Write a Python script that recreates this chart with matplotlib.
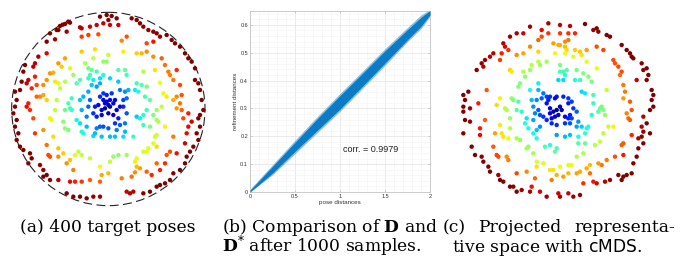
import numpy as np
import matplotlib.pyplot as plt
from matplotlib.patches import Circle

plt.rcParams['font.family'] = ['DejaVu Serif']
plt.rcParams['mathtext.fontset'] = 'custom'
plt.rcParams['mathtext.rm'] = 'DejaVu Serif'
plt.rcParams['mathtext.it'] = 'DejaVu Serif:italic'
plt.rcParams['mathtext.bf'] = 'DejaVu Serif:bold'
plt.rcParams['mathtext.sf'] = 'DejaVu Sans'

W, H = 683, 261

# (a) 400 target poses -- positions (picture units, y down)
a_outer = [(300,50),(320,45),(335,48),(350,55),(325,60),(310,70),(330,75),(355,75),(290,75),(270,80),
           (245,85),(240,82),(200,95),(188,74),(210,68),(175,90),(150,100),(165,118),(140,125),(140,160),
           (115,170),(105,190),(100,200),(75,195),(70,215),(65,245),(60,270),(45,275),(85,240),(105,230),
           (110,255),(95,265),(80,250),(205,65),(195,72),(180,78),(170,90),
           (395,55),(410,60),(420,70),(430,80),(445,90),(460,95),(470,100),(480,110),(500,105),(515,120),
           (525,130),(540,140),(555,160),(565,175),(575,185),(585,205),(585,240),(595,250),(600,270),(605,300),
           (600,345),(610,330),(595,355),(600,380),(590,400),(595,420),(580,440),(570,455),(560,470),(555,490),
           (540,510),(520,520),(510,540),(495,550),(480,555),(470,560),(450,575),(430,580),(400,575),(390,580),
           (380,575),(50,300),(45,320),(40,340),(50,360),(45,380),(55,400),(50,420),(60,440),(70,450),
           (90,460),(95,475),(85,490),(120,495),(130,510),(140,525),(150,540),(130,530),(175,540),(210,545),
           (225,545),(245,545),(200,580),(220,590),(240,590),(260,595),(280,590),(300,590)]
a_orange = [(245,110),(265,105),(295,103),(365,122),(380,110),(440,130),(460,125),(485,175),(495,195),(505,215),
            (510,225),(530,210),(520,240),(540,255),(545,285),(530,290),(540,310),(520,300),(530,325),(545,330),
            (565,340),(550,355),(575,365),(565,380),(560,400),(520,410),(555,430),(530,460),(510,455),(500,465),
            (495,490),(470,490),(480,510),(455,525),(440,515),(420,505),(405,517),(395,530),(365,535),(325,520),
            (305,525),(300,545),(270,540),(220,510),(200,490),(175,470),(150,470),(145,465),(140,435),
            (130,390),(105,400),(100,355),(90,330),(80,320),(85,310),(120,290),(130,285),(140,300),(110,290),
            (140,240),(150,220),(160,218),(175,190),(185,200),(195,175),(130,255)]
a_yellow = [(245,155),(285,148),(280,175),(325,165),(310,185),(370,155),(410,160),(425,160),(440,155),(460,170),
            (465,210),(480,248),(490,280),(500,290),(485,320),(470,330),(460,345),(470,360),(475,365),(450,380),
            (495,380),(470,405),(465,410),(460,430),(470,440),(445,445),(440,455),(430,455),(410,475),(405,485),
            (410,500),(380,465),(355,465),(340,470),(330,485),(300,500),(270,475),(245,465),(235,455),(225,465),
            (210,480),(190,460),(175,445),(160,410),(155,360),(150,355),(165,330),(170,300),(180,265),(195,245),
            (175,250),(165,245),(210,205),(220,225),(255,190),(265,205),(275,210),(320,185),(430,215),(425,255),
            (440,260),(450,300)]
a_cyan = [(290,215),(310,225),(330,235),(355,210),(375,210),(355,245),(380,225),(410,250),(405,270),(415,275),
          (435,290),(440,330),(430,345),(410,350),(420,355),(430,375),(400,410),(375,395),(370,410),(345,410),
          (330,410),(305,410),(280,408),(250,400),(245,395),(240,370),(230,360),(215,330),(210,325),(215,295),
          (205,310),(195,330),(190,365),(195,385),(205,390),(230,250),(240,240),(265,235),(270,225),(280,240),
          (300,235),(260,380),(290,385),(285,400)]
a_blue = [(250,290),(265,275),(275,255),(290,260),(300,250),(310,280),(300,290),(320,285),(335,280),(345,300),
          (340,310),(330,320),(315,325),(305,330),(295,315),(285,320),(280,340),(290,350),(305,345),(325,340),
          (340,345),(350,330),(360,320),(370,300),(380,295),(375,275),(385,270),(360,270),(370,320),(380,340),
          (355,355),(345,370),(360,375),(375,370),(350,390),(325,385),(310,380),(300,380),(260,350),(265,320),
          (270,300),(240,300),(245,330),(330,300),(320,305),(310,300),(315,310),(325,315)]

# (b) pose distance vs refinement distance band
pose_x = [0, 0.25, 0.5, 0.75, 1.0, 1.25, 1.5, 1.75, 1.9, 2.0]
refine_lo = [0.0, 0.068, 0.146, 0.222, 0.298, 0.380, 0.463, 0.547, 0.595, 0.636]
refine_hi = [0.006, 0.092, 0.178, 0.264, 0.346, 0.426, 0.507, 0.583, 0.627, 0.652]
refine_lo_edge = [0.0, 0.062, 0.138, 0.214, 0.290, 0.372, 0.455, 0.540, 0.587, 0.630]
refine_hi_edge = [0.010, 0.098, 0.186, 0.272, 0.354, 0.434, 0.515, 0.591, 0.636, 0.655]
corr = 0.9979

# (c) projected representative space (cMDS)
c_outer = [(240,80),(295,70),(330,75),(360,78),(405,72),(440,85),(445,95),(470,105),(480,110),(430,90),
           (200,100),(220,100),(180,110),(160,130),(165,140),(175,150),(155,160),(130,160),(120,170),(105,180),
           (95,190),(80,210),(100,200),(275,90),(295,100),(275,110),(330,100),(355,100),(375,100),(355,120),
           (345,125),(325,135),(310,130),(265,120),(220,160),(200,165),(150,180),
           (515,135),(530,150),(540,160),(545,170),(550,175),(575,190),(590,205),(580,210),(595,225),(590,240),
           (560,240),(605,270),(610,285),(605,300),(610,320),(600,330),(580,350),(590,370),(575,380),(580,395),
           (600,400),(575,410),(565,415),(580,430),(565,445),(560,470),(550,490),(545,520),(530,525),(515,540),
           (520,530),(505,525),(480,540),(465,545),(440,550),(430,545),(400,550),(390,585),(370,590),(355,580),
           (330,590),(325,580),(290,590),(270,575),(245,560),(240,575),(215,570),(200,575),(190,560),(180,560),
           (160,545),(150,540),(145,525),(120,515),(115,500),(100,485),(95,470),(75,465),(65,440),(40,400),
           (45,360),(40,335),(40,320),(45,300),(40,285),(55,275),(60,325),(60,365)]
c_orange = [(240,140),(265,155),(330,135),(345,140),(350,150),(375,150),(390,155),(410,150),(440,140),(460,150),
            (490,180),(495,190),(505,200),(515,215),(510,225),(520,255),(525,275),(520,295),(540,305),(545,330),
            (530,340),(535,355),(540,360),(545,405),(520,430),(515,435),(520,465),(495,470),(470,480),(455,495),
            (445,490),(420,495),(410,505),(420,520),(390,515),(380,520),(355,520),(340,530),(320,525),(310,510),
            (305,540),(255,535),(260,500),(230,515),(200,520),(175,480),(170,470),(140,465),(145,470),(130,440),
            (160,410),(155,400),(135,400),(150,375),(90,385),(105,360),(90,405),(85,310),(150,295),(140,315),
            (180,210),(185,215),(110,270)]
c_yellow = [(265,185),(245,195),(290,185),(315,160),(345,160),(370,170),(395,165),(410,185),(440,205),(415,230),
            (470,270),(425,245),(455,320),(460,330),(465,345),(490,380),(475,380),(460,400),(450,425),(435,435),
            (405,430),(400,460),(380,470),(355,495),(365,495),(330,500),(300,510),(280,490),(260,485),(250,460),
            (235,440),(230,445),(210,420),(200,415),(175,415),(180,385),(180,355),(200,330),(205,305),(185,295),
            (190,300),(205,260),(210,250),(220,215),(225,230),(240,210),(270,195),(330,195),(350,210),(340,215),
            (380,210),(400,220),(165,325),(170,330)]
c_cyan = [(265,250),(265,270),(280,280),(290,290),(300,290),(325,240),(340,240),(375,240),(390,240),(395,275),
          (405,280),(430,285),(430,310),(450,325),(445,335),(425,345),(415,380),(410,385),(395,380),(405,400),
          (385,410),(385,430),(360,405),(345,410),(320,405),(320,445),(315,455),(300,435),(285,440),(260,415),
          (250,400),(235,385),(225,370),(230,355),(215,335),(250,320),(260,300),(245,300),(330,215),(345,225),
          (240,270)]
c_blue = [(275,295),(295,300),(290,310),(300,325),(310,335),(320,330),(330,320),(335,330),(325,345),(315,350),
          (305,355),(290,360),(280,350),(270,345),(300,340),(340,290),(355,295),(355,310),(365,305),(370,325),
          (360,345),(355,355),(345,350),(365,355),(380,335),(385,365),(380,380),(360,370),(345,370),(320,375),
          (305,370),(270,380),(260,390),(250,360),(255,340),(265,330),(320,290),(315,295)]

fig = plt.figure(figsize=(W / 100, H / 100), dpi=100)


def px_axes(x0, y0, w, h):
    return fig.add_axes([x0 / W, 1 - (y0 + h) / H, w / W, h / H])


def ring_scatter(ax, groups, cx, cy, rmax):
    pts = np.array([p for g in groups for p in g], dtype=float)
    r = np.hypot(pts[:, 0] - cx, pts[:, 1] - cy) / rmax
    ax.scatter(pts[:, 0], pts[:, 1], c=np.clip(r, 0, 1), cmap='jet', vmin=0, vmax=1,
               s=10, linewidths=0, zorder=3)


# (a)
ax1 = px_axes(0, 0, 220, 210)
ring_scatter(ax1, [a_outer, a_orange, a_yellow, a_cyan, a_blue], 325, 327, 272)
ax1.add_patch(Circle((325, 327), 290, fill=False, ec='#222222', lw=0.8, ls=(0, (8, 4))))
ax1.set_xlim(0, 660)
ax1.set_ylim(630, 0)
ax1.axis('off')

# (b)
ax2 = px_axes(250, 11, 180, 181)
blue = '#0072BD'
ax2.fill_between(pose_x, refine_lo_edge, refine_hi_edge, color=blue, alpha=0.45, lw=0, zorder=2)
ax2.fill_between(pose_x, refine_lo, refine_hi, color='#0a7bc4', lw=0, zorder=3)
ax2.set_xlim(0, 2)
ax2.set_ylim(0, 0.65)
ax2.set_xticks([0, 0.5, 1, 1.5, 2], ['0', '0.5', '1', '1.5', '2'])
ax2.set_yticks([0, 0.1, 0.2, 0.3, 0.4, 0.5, 0.6], ['0', '0.1', '0.2', '0.3', '0.4', '0.5', '0.6'])
ax2.set_xticks(np.arange(0, 2.01, 0.1), minor=True)
ax2.set_yticks(np.arange(0, 0.651, 0.02), minor=True)
ax2.grid(True, which='major', color='#e2e2e2', lw=0.5)
ax2.grid(True, which='minor', color='#f3f3f3', lw=0.4)
ax2.set_axisbelow(True)
ax2.tick_params(which='both', direction='in', top=True, right=True, length=1.5, width=0.4,
                color='#b0b0b0', labelsize=4, labelcolor='#333333', pad=1.5)
ax2.tick_params(which='minor', length=0)
for lab in ax2.get_xticklabels() + ax2.get_yticklabels():
    lab.set_family('Liberation Sans')
for sp in ax2.spines.values():
    sp.set_color('#c4c4c4')
    sp.set_linewidth(0.6)
ax2.set_xlabel('pose distances', fontsize=4.5, family='Liberation Sans', color='#333333', labelpad=1)
ax2.set_ylabel('refinement distances', fontsize=4.5, family='Liberation Sans', color='#333333', labelpad=1.5)
ax2.text(1.03, 0.151, 'corr. = %.4f' % corr, fontsize=6.5, family='Liberation Sans',
         color='#222222', va='center', ha='left')

# (c)
ax3 = px_axes(450, 0, 233, 210)
ring_scatter(ax3, [c_outer, c_orange, c_yellow, c_cyan, c_blue], 322, 330, 270)
ax3.set_xlim(0, 699)
ax3.set_ylim(630, 0)
ax3.axis('off')

# captions
fs = 12.3
y1 = 1 - 232 / H
y2 = 1 - 252 / H
fig.text(108 / W, y1, '(a) 400 target poses', fontsize=fs, ha='center', va='baseline')
fig.text(222 / W, y1, r'(b) Comparison of $\mathbf{D}$ and', fontsize=fs, ha='left', va='baseline')
fig.text(222 / W, y2, r'$\mathbf{D}^{*}$ after 1000 samples.', fontsize=fs, ha='left', va='baseline')
fig.text(443 / W, y1, '(c)', fontsize=fs, ha='left', va='baseline')
fig.text(478 / W, y1, 'Projected', fontsize=fs, ha='left', va='baseline')
fig.text(675 / W, y1, 'representa-', fontsize=fs, ha='right', va='baseline')
fig.text(452 / W, y2, r'tive space with $\mathsf{cMDS}$.', fontsize=fs, ha='left', va='baseline')

fig.savefig('out.png', dpi=100)
